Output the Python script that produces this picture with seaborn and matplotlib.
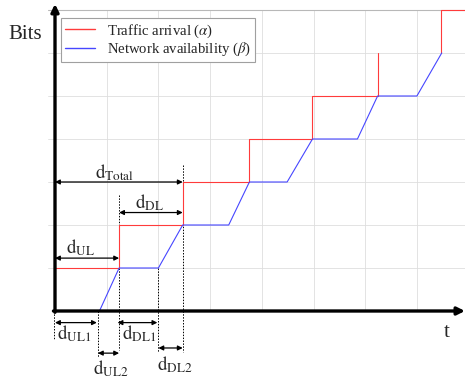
import matplotlib
matplotlib.use("Agg")
import matplotlib.pyplot as plt
import seaborn as sns
import pandas as pd
import numpy as np

# ---- data (time units, bit levels) ----
red_x_a = [0, 1.24, 1.24, 2.47, 2.47, 3.76, 3.76, 4.98, 4.98, 6.24, 6.24]
red_y_a = [1, 1, 2, 2, 3, 3, 4, 4, 5, 5, 6]
red_x_b = [7.47, 7.47, 7.93]
red_y_b = [6, 7, 7]
blue_x = [0.86, 1.24, 2.0, 2.47, 3.36, 3.76, 4.49, 4.98, 5.85, 6.24, 7.0, 7.48]
blue_y = [0, 1, 1, 2, 2, 3, 3, 4, 4, 5, 5, 6]
series_labels = [r"Traffic arrival ($\alpha$)", r"Network availability ($\beta$)"]
grid_x = [1, 2, 3, 4, 5, 6, 7]
grid_y = [1, 2, 3, 4, 5, 6, 7]

# key instants for delay annotations
t_ul1 = 0.86     # end of uplink part 1 (blue start)
t_ul = 1.24      # end of uplink
t_dl1 = 2.0      # end of downlink part 1
t_tot = 2.47     # total

sns.set_theme(style="white")
plt.rcParams["font.family"] = ["Liberation Serif", "DejaVu Serif"]
plt.rcParams["mathtext.fontset"] = "stix"

df = pd.concat([
    pd.DataFrame({"x": red_x_a, "y": red_y_a, "series": series_labels[0], "seg": 0}),
    pd.DataFrame({"x": red_x_b, "y": red_y_b, "series": series_labels[0], "seg": 1}),
    pd.DataFrame({"x": blue_x, "y": blue_y, "series": series_labels[1], "seg": 2}),
], ignore_index=True)

fig = plt.figure(figsize=(4.65, 3.83), dpi=100)
ax = fig.add_axes([0, 0, 1, 1])
ux, uy = 51.7, 43.0
ax.set_xlim(-55 / ux, (465 - 55) / ux)
ax.set_ylim(-(383 - 311) / uy, 311 / uy)
ax.axis("off")

# grid
for gx in grid_x:
    ax.plot([gx, gx], [0, 7], color="#dedede", lw=0.6, zorder=0)
for gy in grid_y:
    c = "#b8b8b8" if gy == 7 else "#dedede"
    ax.plot([-0.14, 7.93], [gy, gy], color=c, lw=0.8 if gy == 7 else 0.6, zorder=0)

palette = {series_labels[0]: "#ff3b3b", series_labels[1]: "#4646ff"}
sns.lineplot(data=df, x="x", y="y", hue="series", units="seg", estimator=None,
             sort=False, palette=palette, lw=0.8, ax=ax, legend=True, zorder=3)

leg = ax.legend(loc="upper left", bbox_to_anchor=(61 / 465, 1 - 18 / 383),
                borderaxespad=0, fontsize=10.6, frameon=True, fancybox=False,
                edgecolor="#a0a0a0", framealpha=1, labelspacing=0.05,
                handlelength=2.0, handletextpad=0.8, borderpad=0.3)
leg.get_frame().set_linewidth(0.8)
for h in leg.get_lines():
    h.set_linewidth(1.0)

# main axes arrows
ax.annotate("", xy=(7.93, 0), xytext=(-0.03, 0),
            arrowprops=dict(arrowstyle="-|>", lw=2.4, color="black", mutation_scale=11,
                            shrinkA=0, shrinkB=0), annotation_clip=False)
ax.annotate("", xy=(0, 7.14), xytext=(0, -0.03),
            arrowprops=dict(arrowstyle="-|>", lw=2.4, color="black", mutation_scale=11,
                            shrinkA=0, shrinkB=0), annotation_clip=False)

ax.text(-0.58, 6.42, "Bits", fontsize=15, ha="center", va="center")
ax.text(7.58, -0.49, "t", fontsize=15, ha="center", va="center")

# dashed guides
dash = dict(color="black", lw=0.7, ls=(0, (1.5, 1.5)), zorder=2, clip_on=False)
ax.plot([t_tot, t_tot], [3.4, -0.95], **dash)
ax.plot([t_ul, t_ul], [2.7, -0.9], **dash)
ax.plot([t_dl1, t_dl1], [1.0, -0.95], **dash)
ax.plot([t_ul1 - 0.03, t_ul1 - 0.03], [0, -1.07], **dash)
ax.plot([-0.02, -0.02], [0, -0.67], **dash)


def darrow(x0, x1, y):
    ax.annotate("", xy=(x1, y), xytext=(x0, y),
                arrowprops=dict(arrowstyle="<|-|>", lw=0.9, color="black",
                                mutation_scale=7, shrinkA=0, shrinkB=0),
                annotation_clip=False)


fs = 13.5
darrow(0, t_tot, 3.0)
ax.text(1.16, 3.22, r"$\mathrm{d}_{\mathrm{Total}}$", fontsize=fs, ha="center", va="center")
darrow(t_ul, t_tot, 2.29)
ax.text(1.82, 2.51, r"$\mathrm{d}_{\mathrm{DL}}$", fontsize=fs, ha="center", va="center")
darrow(0, t_ul, 1.23)
ax.text(0.5, 1.47, r"$\mathrm{d}_{\mathrm{UL}}$", fontsize=fs, ha="center", va="center")
darrow(0, t_ul1 - 0.05, -0.27)
ax.text(0.37, -0.53, r"$\mathrm{d}_{\mathrm{UL1}}$", fontsize=fs, ha="center", va="center")
darrow(t_ul1 - 0.03, t_ul, -0.98)
ax.text(1.08, -1.33, r"$\mathrm{d}_{\mathrm{UL2}}$", fontsize=fs, ha="center", va="center")
darrow(t_ul - 0.03, t_dl1 - 0.02, -0.27)
ax.text(1.62, -0.53, r"$\mathrm{d}_{\mathrm{DL1}}$", fontsize=fs, ha="center", va="center")
darrow(t_dl1, t_tot, -0.86)
ax.text(2.32, -1.24, r"$\mathrm{d}_{\mathrm{DL2}}$", fontsize=fs, ha="center", va="center")

fig.savefig("out.png", dpi=100)
